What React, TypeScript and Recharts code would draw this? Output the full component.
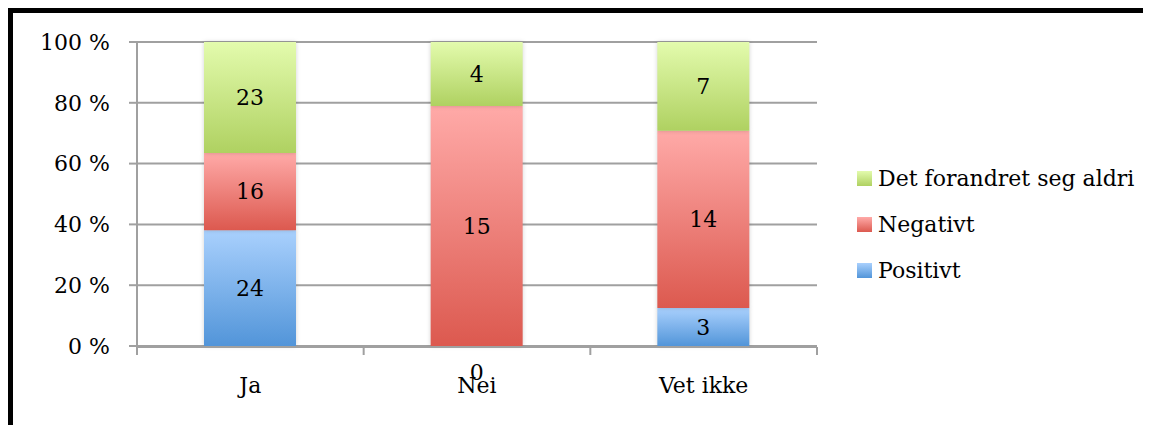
import { Bar, BarChart, CartesianGrid, LabelList, Legend, XAxis, YAxis } from 'recharts'

const categories = ['Ja', 'Nei', 'Vet ikke']
const positivt = [24, 0, 3]
const negativt = [16, 15, 14]
const aldri = [23, 4, 7]
const yTicks = [0, 0.2, 0.4, 0.6, 0.8, 1]
const gridTicks = [0, 1, 2, 3]

const data = categories.map((name, i) => ({
  name,
  pos: i + 0.5,
  positivt: positivt[i],
  negativt: negativt[i],
  aldri: aldri[i],
}))

const series = [
  { key: 'aldri', label: 'Det forandret seg aldri', top: '#e3fbad', bottom: '#afd161' },
  { key: 'negativt', label: 'Negativt', top: '#ffaaa8', bottom: '#dc594f' },
  { key: 'positivt', label: 'Positivt', top: '#a9d0fd', bottom: '#5295d9' },
]

const font = '"DejaVu Serif", serif'
const fontSize = 22
const axisGray = '#a0a0a0'

function SegmentLabel(props: any) {
  const { x, y, width, height, value } = props
  if (value === 0) return null
  return (
    <text
      x={x + width / 2}
      y={y + height / 2}
      textAnchor="middle"
      dominantBaseline="central"
      fontFamily={font}
      fontSize={fontSize}
      fill="#000"
    >
      {value}
    </text>
  )
}

// zero-height segments get no rectangle, so their label hangs off the segment above
function ZeroLabel(props: any) {
  const { x, y, width, height, value } = props
  if (value !== 0) return null
  return (
    <text
      x={x + width / 2}
      y={y + height + 26}
      textAnchor="middle"
      dominantBaseline="central"
      fontFamily={font}
      fontSize={fontSize}
      fill="#000"
    >
      {value}
    </text>
  )
}

function LegendBox() {
  return (
    <div style={{ fontFamily: font, fontSize, color: '#000' }}>
      {series.map((s) => (
        <div key={s.key} style={{ display: 'flex', alignItems: 'center', height: 46 }}>
          <span
            style={{
              display: 'inline-block',
              width: 15,
              height: 15,
              background: `linear-gradient(${s.top}, ${s.bottom})`,
              marginRight: 6,
            }}
          />
          <span>{s.label}</span>
        </div>
      ))}
    </div>
  )
}

export default function App() {
  return (
    <div
      style={{
        width: 1143,
        height: 417,
        borderTop: '5px solid #000',
        borderLeft: '5px solid #000',
        boxSizing: 'border-box',
        background: '#fff',
      }}
    >
      <BarChart
        width={1138}
        height={412}
        data={data}
        stackOffset="expand"
        barSize={92}
        margin={{ top: 29, right: 334, left: 0, bottom: 77 }}
      >
        <defs>
          {series.map((s) => (
            <linearGradient key={s.key} id={`grad-${s.key}`} x1="0" y1="0" x2="0" y2="1">
              <stop offset="0%" stopColor={s.top} />
              <stop offset="100%" stopColor={s.bottom} />
            </linearGradient>
          ))}
        </defs>
        <CartesianGrid vertical={false} stroke={axisGray} strokeWidth={2} />
        <XAxis
          xAxisId="grid"
          dataKey="pos"
          type="number"
          domain={[0, 3]}
          ticks={gridTicks}
          interval={0}
          height={1}
          tick={() => <g />}
          tickSize={8}
          axisLine={{ stroke: axisGray, strokeWidth: 2 }}
          tickLine={{ stroke: axisGray, strokeWidth: 2 }}
        />
        <XAxis
          xAxisId="cat"
          dataKey="name"
          height={1}
          axisLine={false}
          tickLine={false}
          tickSize={0}
          tickMargin={31}
          tick={{ fontFamily: font, fontSize, fill: '#000' }}
        />
        <YAxis
          width={124}
          domain={[0, 1]}
          ticks={yTicks}
          tickFormatter={(v: number) => `${Math.round(v * 100)} %`}
          tickSize={8}
          tickMargin={19}
          axisLine={{ stroke: axisGray, strokeWidth: 2 }}
          tickLine={{ stroke: axisGray, strokeWidth: 2 }}
          tick={{ fontFamily: font, fontSize, fill: '#000' }}
        />
        <Legend
          layout="horizontal"
          verticalAlign="middle"
          align="center"
          content={() => <LegendBox />}
          wrapperStyle={{ left: 844, top: 142, width: 290 }}
        />
        {[...series].reverse().map((s) => (
          <Bar
            key={s.key}
            xAxisId="cat"
            dataKey={s.key}
            name={s.label}
            stackId="a"
            fill={`url(#grad-${s.key})`}
            style={{ filter: 'drop-shadow(0 0 2px rgba(0,0,0,0.18))' }}
            isAnimationActive={false}
          >
            <LabelList dataKey={s.key} content={SegmentLabel} />
            {s.key === 'negativt' ? <LabelList dataKey="positivt" content={ZeroLabel} /> : null}
          </Bar>
        ))}
      </BarChart>
    </div>
  )
}
